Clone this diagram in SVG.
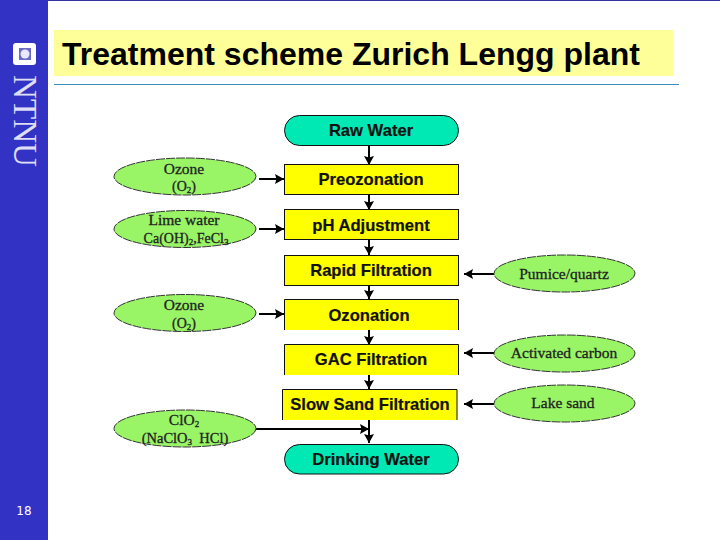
<svg xmlns="http://www.w3.org/2000/svg" width="720" height="540" viewBox="0 0 720 540">
<style>
.p{fill:#ffff00;stroke:#111;stroke-width:1}
.t{fill:#00e8b4;stroke:#111;stroke-width:1}
.e{fill:#99f566;stroke:#333;stroke-width:1;stroke-dasharray:9 1}
.l{font-family:"Liberation Sans",Arial,sans-serif;font-weight:700;font-size:16.600px;fill:#111;text-anchor:middle;stroke:#111;stroke-width:.2}
.s{font-family:"Liberation Serif","Times New Roman",serif;font-weight:400;font-size:15.500px;fill:#222;text-anchor:middle;stroke:#222;stroke-width:.3}
.c line{stroke:#000;stroke-width:2;marker-end:url(#a)}
</style>
<defs>
<marker id="a" markerUnits="userSpaceOnUse" markerWidth="10" markerHeight="10" refX="9" refY="5" orient="auto"><path d="M0 0L9 5L0 10L1.500 5Z" fill="#000"/></marker>
</defs>
<rect width="720" height="540" fill="#fff"/>
<g id="sidebar">
<rect width="48" height="540" fill="#3232c4"/>
<rect x="48" y="0" width="672" height="1" fill="#3232a0"/>
<rect x="13" y="43" width="23" height="22" rx="3" fill="#fff"/>
<rect x="19" y="48" width="12" height="12" fill="#6a6ac8"/>
<circle cx="25" cy="54" r="4.500" fill="#e8e8ff"/>
<text transform="translate(13.500 75) rotate(90)" x="0" y="0" textLength="92" lengthAdjust="spacingAndGlyphs" font-family="Liberation Serif, serif" font-size="33" fill="#fff" fill-opacity=".85">NTNU</text>
<text x="24" y="515" font-family="DejaVu Sans, sans-serif" font-size="12" fill="#fff" text-anchor="middle">18</text>
</g>
<g id="title">
<rect x="54" y="30" width="619" height="46" fill="#ffff99"/>
<line x1="54" y1="84.500" x2="679" y2="84.500" stroke="#3a8fb8" stroke-width="1"/>
<text x="62" y="65" font-family="Liberation Sans, Arial, sans-serif" font-weight="700" font-size="32" fill="#000">Treatment scheme Zurich Lengg plant</text>
</g>
<g id="connectors" class="c">
<line x1="369" y1="146" x2="369" y2="165"/>
<line x1="369" y1="195" x2="369" y2="210"/>
<line x1="369" y1="240" x2="369" y2="255"/>
<line x1="369" y1="285" x2="369" y2="299"/>
<line x1="369" y1="330" x2="369" y2="345"/>
<line x1="369" y1="375" x2="369" y2="389"/>
<line x1="369" y1="420" x2="369" y2="443"/>
<line x1="259" y1="179" x2="284" y2="179"/>
<line x1="259" y1="229" x2="284" y2="229"/>
<line x1="259" y1="314" x2="284" y2="314"/>
<line x1="256" y1="429" x2="369" y2="429"/>
<line x1="494" y1="274" x2="464" y2="274"/>
<line x1="494" y1="353" x2="464" y2="353"/>
<line x1="494" y1="404" x2="464" y2="404"/>
</g>
<g id="raw-water"><rect class="t" x="284.500" y="115.500" width="174" height="30" rx="15"/><text class="l" x="371" y="136">Raw Water</text></g>
<g id="preozonation"><rect class="p" x="284.500" y="164.500" width="174" height="30"/><text class="l" x="371" y="185">Preozonation</text></g>
<g id="ph-adjustment"><rect class="p" x="284.500" y="209.500" width="174" height="30"/><text class="l" x="371" y="231">pH Adjustment</text></g>
<g id="rapid-filtration"><rect class="p" x="284.500" y="255.500" width="174" height="30"/><text class="l" x="371" y="276">Rapid Filtration</text></g>
<g id="ozonation"><rect x="284" y="299" width="175" height="31" fill="#ffff00"/><path d="M284.500 330V299.500H458.500V330" fill="none" stroke="#111"/><text class="l" x="369" y="321">Ozonation</text></g>
<g id="gac-filtration"><rect x="284" y="344" width="175" height="31" fill="#ffff00"/><path d="M284.500 375V344.500H458.500V375" fill="none" stroke="#111"/><text class="l" x="371" y="365">GAC Filtration</text></g>
<g id="slow-sand-filtration"><rect x="282" y="389" width="175" height="31" fill="#ffff00"/><path d="M282.500 420V389.500H457V420" fill="none" stroke="#111"/><text class="l" x="370" y="410">Slow Sand Filtration</text></g>
<g id="drinking-water"><rect class="t" x="284.500" y="444.500" width="174" height="29.500" rx="15"/><text class="l" x="371" y="465">Drinking Water</text></g>
<g id="ozone-1"><ellipse class="e" cx="185" cy="176.500" rx="71" ry="18.500"/><text class="s" x="184" y="174">Ozone</text><text class="s" x="184" y="191" font-size="14" style="font-size:14px">(O<tspan font-size="9" dy="2">2</tspan><tspan dy="-2">)</tspan></text></g>
<g id="lime-water"><ellipse class="e" cx="185" cy="229" rx="71" ry="18.500"/><text class="s" x="184" y="225">Lime water</text><text class="s" x="186" y="243" style="font-size:14px">Ca(OH)<tspan font-size="9" dy="2">2</tspan><tspan dy="-2">,FeCl</tspan><tspan font-size="9" dy="2">3</tspan></text></g>
<g id="ozone-2"><ellipse class="e" cx="185" cy="313" rx="71" ry="18.500"/><text class="s" x="184" y="310">Ozone</text><text class="s" x="184" y="328" style="font-size:14px">(O<tspan font-size="9" dy="2">2</tspan><tspan dy="-2">)</tspan></text></g>
<g id="clo2"><ellipse class="e" cx="185" cy="428.500" rx="71" ry="18.500"/><text class="s" x="184" y="425">ClO<tspan font-size="9" dy="2">2</tspan></text><text class="s" x="185" y="443" xml:space="preserve" style="font-size:14.500px">(NaClO<tspan font-size="9" dy="2">3</tspan><tspan dy="-2">  HCl)</tspan></text></g>
<g id="pumice-quartz"><ellipse class="e" cx="564.500" cy="273.500" rx="70.500" ry="18.500"/><text class="s" x="564" y="279">Pumice/quartz</text></g>
<g id="activated-carbon"><ellipse class="e" cx="564.500" cy="353.500" rx="70.500" ry="18.500"/><text class="s" x="564" y="358">Activated carbon</text></g>
<g id="lake-sand"><ellipse class="e" cx="564.500" cy="403.500" rx="70.500" ry="18.500"/><text class="s" x="563" y="408">Lake sand</text></g>
</svg>
